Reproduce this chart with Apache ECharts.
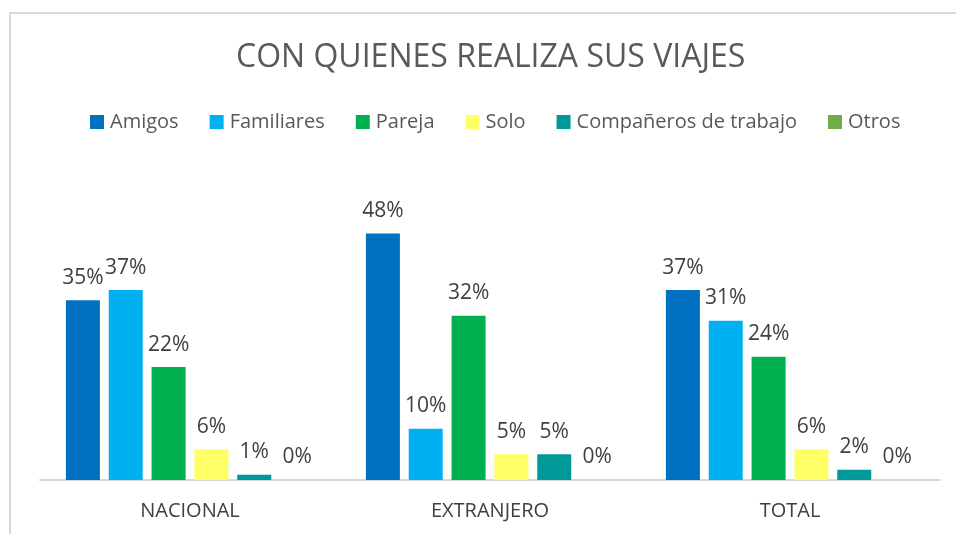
<!DOCTYPE html>
<html lang="es">
<head>
    <meta charset="UTF-8">
    <title>Con quienes realiza sus viajes</title>
    <script src="https://cdn.jsdelivr.net/npm/echarts@6/dist/echarts.min.js"></script>
    <style>
        html, body { margin: 0; padding: 0; background: #ffffff; }
        #marco {
            position: absolute; left: 9px; top: 12px; width: 960px; height: 540px;
            border-left: 2px solid #d9d9d9; border-top: 2px solid #d9d9d9;
        }
        #grafico { position: absolute; left: 0; top: 0; width: 956px; height: 534px; }
    </style>
</head>
<body>
<div id="marco"></div>
<div id="grafico"></div>
<script>
    // datos
    var categorias = ['NACIONAL', 'EXTRANJERO', 'TOTAL'];
    var amigos = [0.35, 0.48, 0.37];
    var familiares = [0.37, 0.10, 0.31];
    var pareja = [0.22, 0.32, 0.24];
    var solo = [0.06, 0.05, 0.06];
    var companeros = [0.01, 0.05, 0.02];
    var otros = [0, 0, 0];

    var fuente = '"Open Sans", "Noto Sans", sans-serif';

    function serie(nombre, datos, color) {
        return {
            name: nombre,
            type: 'bar',
            data: datos,
            barWidth: 34,
            barGap: '26%',
            itemStyle: { color: color },
            label: {
                show: true,
                position: 'top',
                distance: 12,
                color: '#404040',
                fontFamily: fuente,
                fontSize: 21,
                formatter: function (p) { return Math.round(p.value * 100) + '%'; }
            }
        };
    }

    var grafico = echarts.init(document.getElementById('grafico'));
    grafico.setOption({
        animation: false,
        title: {
            text: 'CON QUIENES REALIZA SUS VIAJES',
            left: 231,
            top: 37,
            textStyle: { color: '#595959', fontFamily: fuente, fontWeight: 'normal', fontSize: 32 }
        },
        legend: {
            top: 107,
            left: 85,
            itemWidth: 14,
            itemHeight: 14,
            itemGap: 31,
            icon: 'rect',
            textStyle: { color: '#595959', fontFamily: fuente, fontSize: 20, padding: [0, 0, 0, 1] }
        },
        grid: { left: 40, right: 16, top: 172, bottom: 54 },
        xAxis: {
            type: 'category',
            data: categorias,
            axisLine: { lineStyle: { color: '#d9d9d9', width: 2 } },
            axisTick: { show: false },
            axisLabel: { color: '#404040', fontFamily: fuente, fontSize: 20, margin: 21 }
        },
        yAxis: {
            type: 'value',
            min: 0,
            max: 0.6,
            show: false,
            splitLine: { show: false }
        },
        series: [
            serie('Amigos', amigos, '#0070C0'),
            serie('Familiares', familiares, '#00B0F0'),
            serie('Pareja', pareja, '#00B050'),
            serie('Solo', solo, '#FFFF66'),
            serie('Compañeros de trabajo', companeros, '#009999'),
            serie('Otros', otros, '#70AD47')
        ]
    });
</script>
</body>
</html>
